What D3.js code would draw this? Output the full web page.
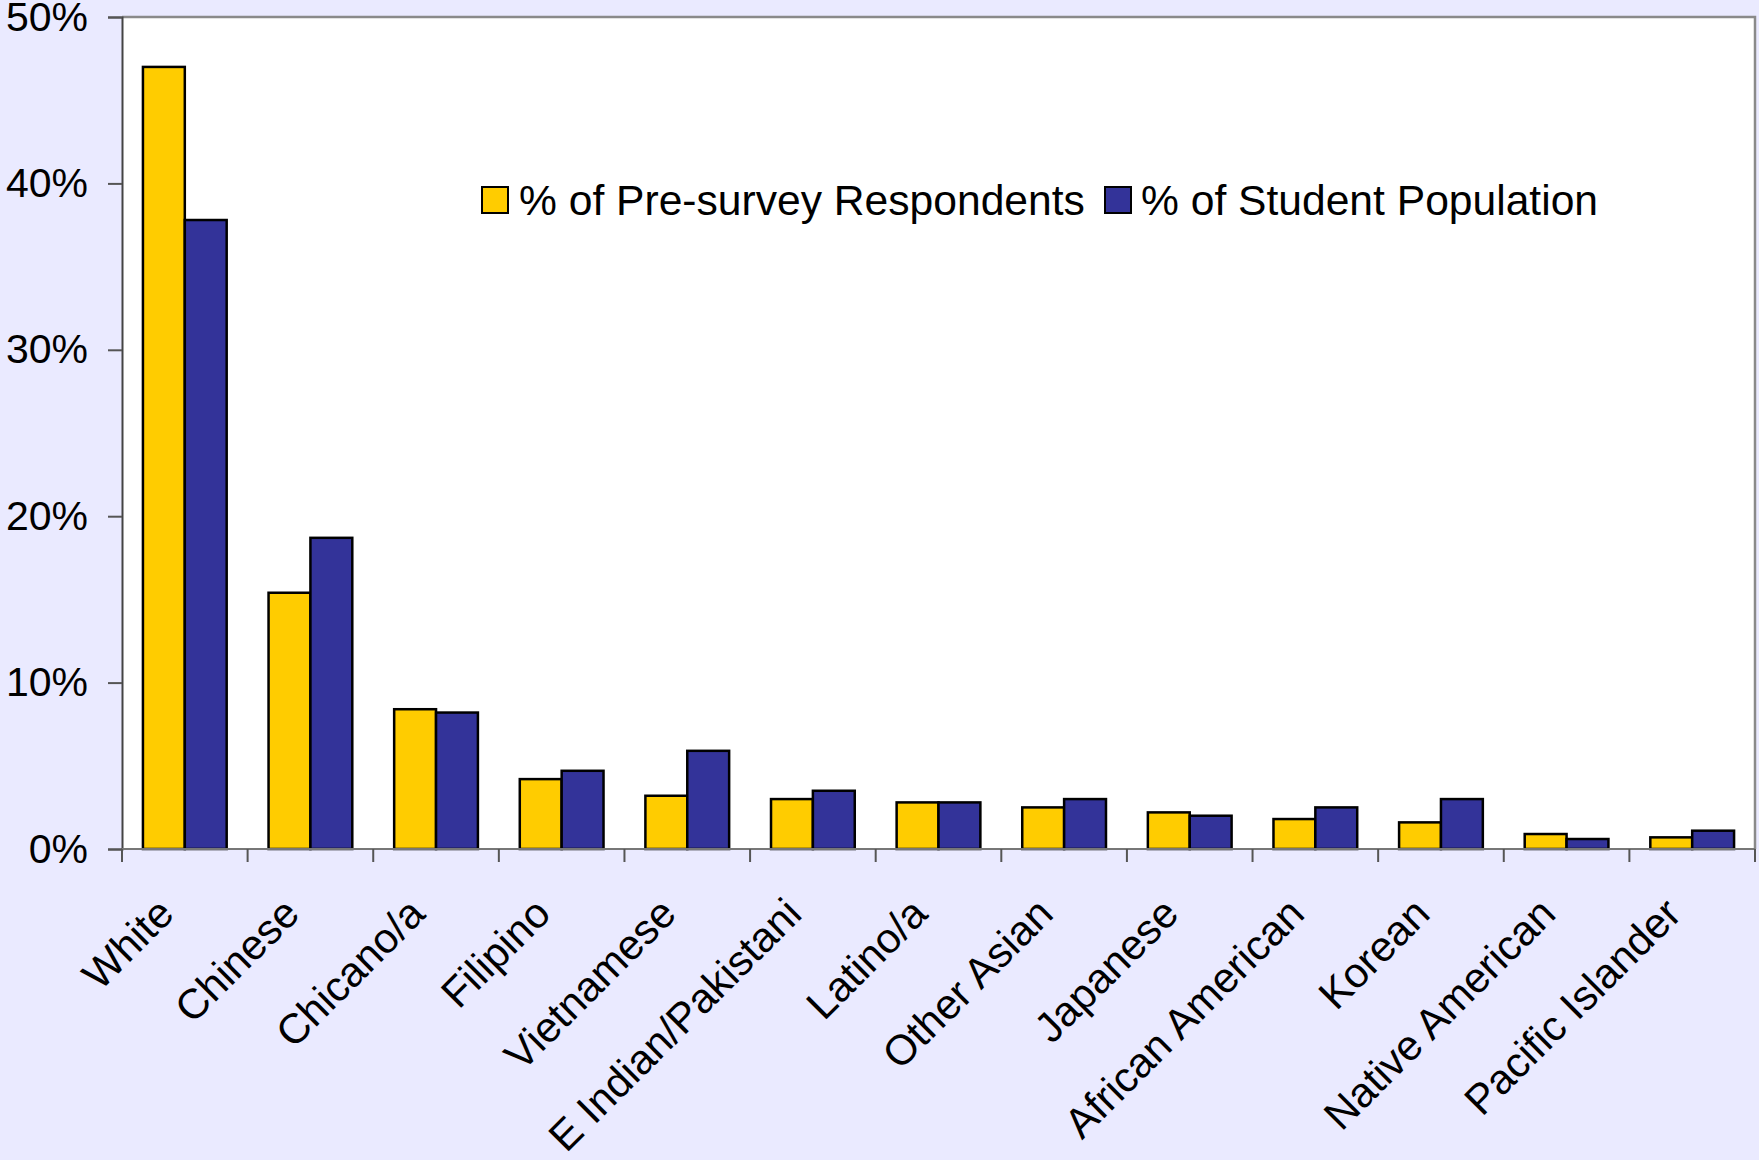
<!DOCTYPE html>
<html>
<head>
<meta charset="utf-8">
<script src="https://cdn.jsdelivr.net/npm/d3@7"></script>
<style>
  html, body { margin: 0; padding: 0; background: #eaeaff; }
  svg { display: block; font-family: "Liberation Sans", Arial, sans-serif; }
</style>
</head>
<body>
<svg id="chart" width="1759" height="1160"></svg>
<script>
// Ethnic groups, in the order they appear along the axis
const categories = [
  "White", "Chinese", "Chicano/a", "Filipino", "Vietnamese",
  "E Indian/Pakistani", "Latino/a", "Other Asian", "Japanese",
  "African American", "Korean", "Native American", "Pacific Islander"
];

// Share of pre-survey respondents (fraction)
const respondents = [0.470, 0.154, 0.084, 0.042, 0.032, 0.030, 0.028, 0.025, 0.022, 0.018, 0.016, 0.009, 0.007];

// Share of the overall student population (fraction)
const population = [0.378, 0.187, 0.082, 0.047, 0.059, 0.035, 0.028, 0.030, 0.020, 0.025, 0.030, 0.006, 0.011];

const seriesNames = ["% of Pre-survey Respondents", "% of Student Population"];
const seriesColors = ["#ffcc00", "#333399"];
const yTicks = [0, 0.1, 0.2, 0.3, 0.4, 0.5];

const svg = d3.select("#chart");
const W = 1759, H = 1160;
const plot = { left: 122, right: 1755, top: 17, bottom: 849 };

svg.append("rect").attr("width", W).attr("height", H).attr("fill", "#eaeaff");

const x0 = d3.scaleBand().domain(categories).range([plot.left, plot.right]).padding(0);
const x1 = d3.scaleBand().domain([0, 1]).range([0, x0.bandwidth()]).paddingInner(0).paddingOuter(0.5);
const y = d3.scaleLinear().domain([0, 0.5]).range([plot.bottom, plot.top]);

// plot area
svg.append("rect")
  .attr("x", plot.left).attr("y", plot.top)
  .attr("width", plot.right - plot.left).attr("height", plot.bottom - plot.top)
  .attr("fill", "#ffffff");

// frame: top and right edges
svg.append("path")
  .attr("d", `M${plot.left},${plot.top}H${plot.right}V${plot.bottom}`)
  .attr("fill", "none").attr("stroke", "#8a8a8a").attr("stroke-width", 2.5);

// bars
const rows = categories.map((c, i) => ({ cat: c, vals: [respondents[i], population[i]] }));
const groups = svg.append("g").selectAll("g").data(rows).join("g")
  .attr("transform", d => `translate(${x0(d.cat)},0)`);
groups.selectAll("rect").data(d => d.vals.map((v, s) => ({ v, s }))).join("rect")
  .attr("x", d => x1(d.s))
  .attr("y", d => y(d.v))
  .attr("width", x1.bandwidth())
  .attr("height", d => y(0) - y(d.v))
  .attr("fill", d => seriesColors[d.s])
  .attr("stroke", "#000").attr("stroke-width", 2.5);

// y axis
const yAxis = d3.axisLeft(y).tickValues(yTicks).tickSize(14).tickFormat(d3.format(".0%")).tickPadding(20);
const gy = svg.append("g").attr("transform", `translate(${plot.left},0)`).call(yAxis);
gy.select(".domain").attr("stroke", "#444").attr("stroke-width", 2);
gy.selectAll(".tick line").attr("stroke", "#555").attr("stroke-width", 2);
gy.selectAll(".tick text").attr("font-size", 41).attr("fill", "#000")
  .attr("font-family", "Liberation Sans, Arial, sans-serif");

// x axis with boundary ticks between categories
const xAxisLine = svg.append("g");
xAxisLine.append("line")
  .attr("x1", plot.left).attr("x2", plot.right)
  .attr("y1", plot.bottom).attr("y2", plot.bottom)
  .attr("stroke", "#777").attr("stroke-width", 2);
const bounds = categories.map(c => x0(c)).concat([plot.right]);
xAxisLine.selectAll("line.tk").data(bounds).join("line").attr("class", "tk")
  .attr("x1", d => d).attr("x2", d => d)
  .attr("y1", plot.bottom).attr("y2", plot.bottom + 13)
  .attr("stroke", "#555").attr("stroke-width", 2);

// rotated category labels
svg.append("g").selectAll("text").data(categories).join("text")
  .attr("transform", d => `translate(${x0(d) + x0.bandwidth() / 2 - 30},${plot.bottom + 46}) rotate(-45)`)
  .attr("text-anchor", "end")
  .attr("dy", "0.71em")
  .attr("font-size", 42)
  .attr("fill", "#000")
  .text(d => d);

// legend
const legend = svg.append("g");
const legendItems = [
  { x: 482, tx: 519 },
  { x: 1105, tx: 1141 }
];
legendItems.forEach((it, i) => {
  legend.append("rect")
    .attr("x", it.x).attr("y", 187).attr("width", 26).attr("height", 26)
    .attr("fill", seriesColors[i]).attr("stroke", "#000").attr("stroke-width", 2);
  legend.append("text")
    .attr("x", it.tx).attr("y", 200).attr("dy", "0.36em")
    .attr("font-size", 42.6).attr("fill", "#000")
    .text(seriesNames[i]);
});
</script>
</body>
</html>
